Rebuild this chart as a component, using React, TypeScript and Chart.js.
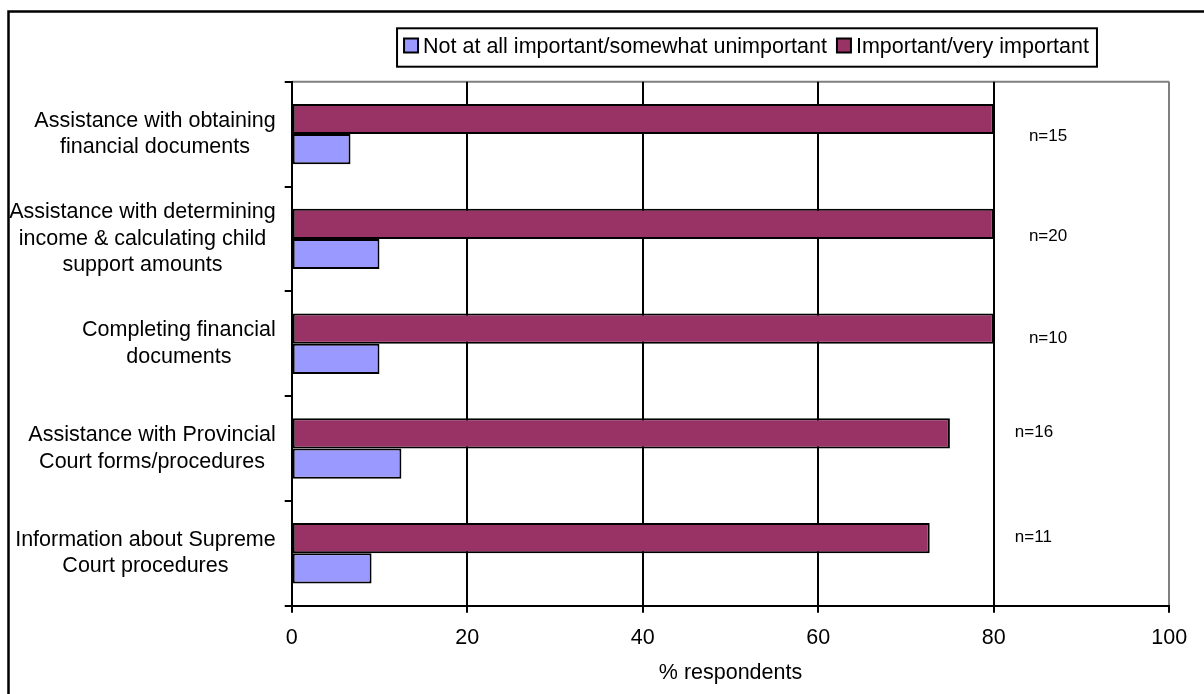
import { useEffect, useRef } from "react";
import { Chart, registerables } from "chart.js";

Chart.register(...registerables);

// Category labels, one array entry per line
const categories: string[][] = [
  ["Assistance with obtaining", "financial documents"],
  ["Assistance with determining", "income & calculating child", "support amounts"],
  ["Completing financial", "documents"],
  ["Assistance with Provincial", "Court forms/procedures"],
  ["Information about Supreme", "Court procedures"],
];

const seriesNames = [
  "Not at all important/somewhat unimportant",
  "Important/very important",
];

// % respondents
const notImportantPct = [6.7, 10, 10, 12.5, 9.1];
const importantPct = [80, 80, 80, 75, 72.7];

const sampleSizes = ["n=15", "n=20", "n=10", "n=16", "n=11"];

const xTickValues = [0, 20, 40, 60, 80, 100];

// Placement of the sample-size notes: x in axis units, y as a shift in category bands
const noteX = [84, 84, 84, 82.4, 82.4];
const noteShift = [0.02, -0.02, -0.05, -0.15, -0.15];

const FONT = '"Liberation Sans", Arial, Helvetica, sans-serif';
const LABEL_SIZE = 21.5;
const NOTE_SIZE = 17;

const framePlugin = {
  id: "frame",
  beforeDraw(chart: any) {
    const { ctx, chartArea: a } = chart;
    ctx.save();
    // outer frame (left and top edges)
    ctx.strokeStyle = "#000";
    ctx.lineWidth = 2.5;
    ctx.beginPath();
    ctx.moveTo(8.5, chart.height + 5);
    ctx.lineTo(8.5, 11.5);
    ctx.lineTo(chart.width + 5, 11.5);
    ctx.stroke();
    // plot area top edge
    ctx.strokeStyle = "#808080";
    ctx.lineWidth = 2;
    ctx.beginPath();
    ctx.moveTo(a.left, a.top);
    ctx.lineTo(a.right, a.top);
    ctx.stroke();
    ctx.restore();
  },
};

const annotationPlugin = {
  id: "annotations",
  afterDraw(chart: any) {
    const { ctx } = chart;
    const xs = chart.scales.x;
    const ys = chart.scales.y;
    ctx.save();
    ctx.fillStyle = "#000";

    // category labels: block right-aligned to the axis, lines centred within the block
    ctx.font = `${LABEL_SIZE}px ${FONT}`;
    ctx.textAlign = "center";
    ctx.textBaseline = "middle";
    const lineH = 26.5;
    const rightEdge = ys.left - 9;
    categories.forEach((lines, i) => {
      const cy = ys.getPixelForValue(i);
      const maxW = Math.max(...lines.map((l) => ctx.measureText(l).width));
      const cx = rightEdge - maxW / 2;
      lines.forEach((line, j) => {
        ctx.fillText(line, cx, cy + (j - (lines.length - 1) / 2) * lineH);
      });
    });

    // sample sizes
    ctx.font = `${NOTE_SIZE}px ${FONT}`;
    ctx.textAlign = "left";
    const band = Math.abs(ys.getPixelForValue(1) - ys.getPixelForValue(0));
    sampleSizes.forEach((txt, i) => {
      const x = xs.getPixelForValue(noteX[i]);
      const y = ys.getPixelForValue(i) + noteShift[i] * band;
      ctx.fillText(txt, x, y);
    });

    // boxed legend, series listed in reverse of drawing order
    ctx.font = `${LABEL_SIZE}px ${FONT}`;
    const items = chart.data.datasets
      .map((d: any) => ({ text: d.label as string, color: d.backgroundColor as string }))
      .reverse();
    const sw = 14, gapSw = 5, gapItem = 10, padL = 7, padR = 8;
    const widths = items.map((it: any) => ctx.measureText(it.text).width);
    const total =
      padL + padR +
      widths.reduce((s: number, w: number) => s + w + sw + gapSw, 0) +
      gapItem * (items.length - 1);
    const boxTop = 28.3, boxH = 38.4, boxCx = 747;
    let x = boxCx - total / 2;
    ctx.lineWidth = 2;
    ctx.strokeStyle = "#000";
    ctx.strokeRect(x, boxTop, total, boxH);
    x += padL;
    const midY = boxTop + boxH / 2;
    ctx.textBaseline = "middle";
    items.forEach((it: any, k: number) => {
      ctx.fillStyle = it.color;
      ctx.fillRect(x, midY - sw / 2 - 2, sw, sw);
      ctx.strokeRect(x, midY - sw / 2 - 2, sw, sw);
      x += sw + gapSw;
      ctx.fillStyle = "#000";
      ctx.fillText(it.text, x, midY);
      x += widths[k] + gapItem;
    });

    ctx.restore();
  },
};

export default function App() {
  const canvasRef = useRef<HTMLCanvasElement | null>(null);

  useEffect(() => {
    if (!canvasRef.current) return;
    const chart = new Chart(canvasRef.current, {
      type: "bar",
      data: {
        labels: categories,
        datasets: [
          {
            label: seriesNames[1],
            data: importantPct,
            backgroundColor: "#993366",
            borderColor: "#000",
            borderWidth: 2,
            borderSkipped: false,
          },
          {
            label: seriesNames[0],
            data: notImportantPct,
            backgroundColor: "#9999FF",
            borderColor: "#000",
            borderWidth: 2,
            borderSkipped: false,
          },
        ],
      },
      options: {
        indexAxis: "y",
        responsive: false,
        animation: false,
        devicePixelRatio: 1,
        categoryPercentage: 0.576,
        barPercentage: 1,
        layout: { padding: { left: 284.7, top: 81.7, right: 34.7, bottom: 0 } },
        plugins: {
          legend: { display: false },
          tooltip: { enabled: false },
        },
        scales: {
          x: {
            min: 0,
            max: 100,
            afterBuildTicks: (s: any) => {
              s.ticks = xTickValues.map((v) => ({ value: v }));
            },
            afterFit: (s: any) => {
              s.height = 88.3;
            },
            ticks: {
              color: "#000",
              padding: 12,
              font: { family: FONT, size: LABEL_SIZE },
            },
            grid: {
              color: (c: any) => (c.tick && c.tick.value === 100 ? "#808080" : "#000"),
              tickColor: "#000",
              lineWidth: 2,
              tickLength: 7,
            },
            border: { color: "#000", width: 2 },
            title: {
              display: true,
              text: "% respondents",
              color: "#000",
              font: { family: FONT, size: LABEL_SIZE },
              padding: { top: 0, bottom: 8 },
            },
          },
          y: {
            afterFit: (s: any) => {
              s.width = 7;
            },
            ticks: { display: false },
            grid: {
              offset: true,
              drawOnChartArea: false,
              color: "#000",
              lineWidth: 2,
              tickLength: 7,
            },
            border: { color: "#000", width: 2 },
          },
        },
      },
      plugins: [framePlugin, annotationPlugin],
    } as any);
    return () => chart.destroy();
  }, []);

  return (
    <div style={{ position: "fixed", left: 0, top: 0, width: 1204, height: 694, background: "#fff" }}>
      <canvas ref={canvasRef} width={1204} height={694} style={{ display: "block" }} />
    </div>
  );
}
